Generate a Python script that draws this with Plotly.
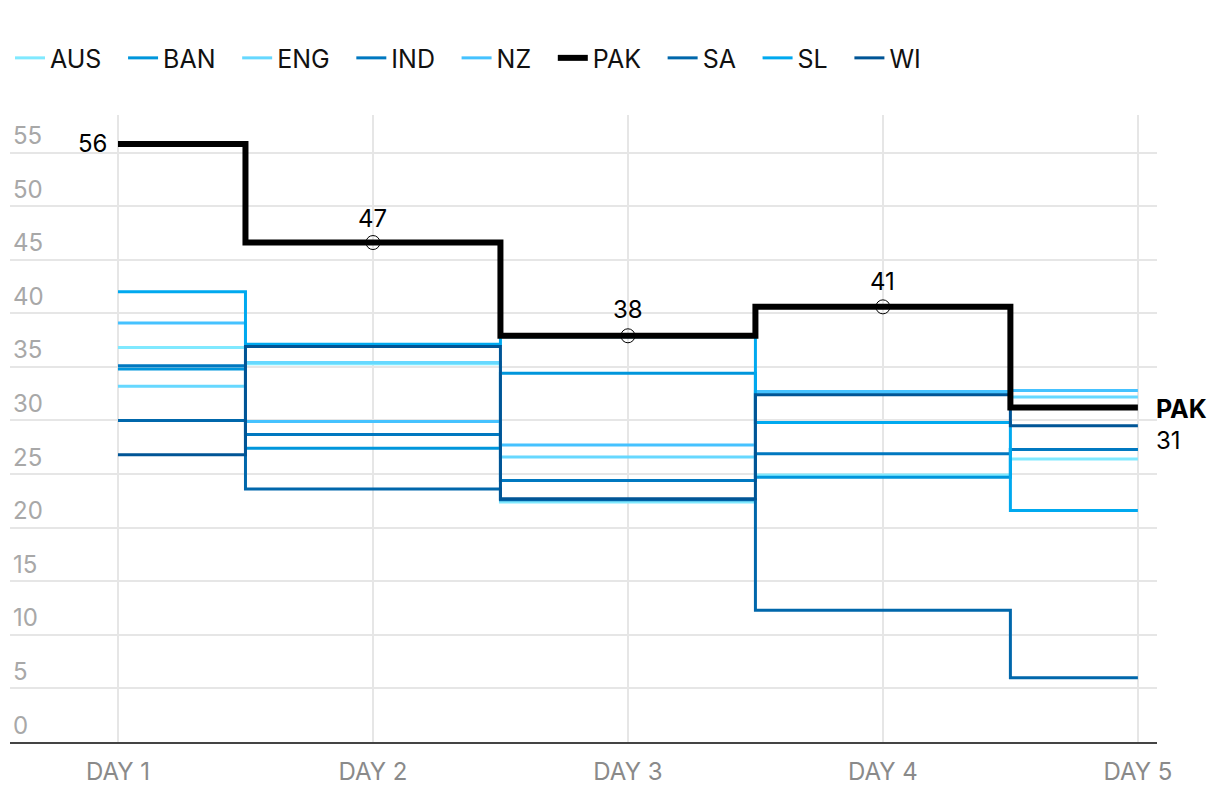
import plotly.graph_objects as go

days = ["DAY 1", "DAY 2", "DAY 3", "DAY 4", "DAY 5"]
day_idx = [0, 1, 2, 3, 4]

teams = ["AUS", "BAN", "ENG", "IND", "NZ", "PAK", "SA", "SL", "WI"]
aus = [36.8, 35.3, 22.4, 24.9, 26.4]
ban = [34.8, 27.4, 34.4, 24.7, 27.3]
eng = [33.2, 35.4, 26.6, 32.5, 32.2]
ind = [35.1, 28.7, 24.4, 26.9, 27.3]
nz = [39.1, 29.9, 27.7, 32.7, 32.8]
pak = [55.8, 46.6, 37.9, 40.6, 31.2]
sa = [30.0, 23.6, 22.6, 12.3, 6.0]
sl = [42.0, 37.1, 37.8, 29.8, 21.6]
wi = [26.8, 36.9, 22.7, 32.4, 29.5]
pak_labels = ["56", "47", "38", "41", "31"]

series = {"AUS": aus, "BAN": ban, "ENG": eng, "IND": ind, "NZ": nz,
          "PAK": pak, "SA": sa, "SL": sl, "WI": wi}
colors = {"AUS": "#80e9ff", "BAN": "#0096dc", "ENG": "#66d8ff", "IND": "#0078c0",
          "NZ": "#45c2ff", "PAK": "#000000", "SA": "#0067ab", "SL": "#00a9ef",
          "WI": "#005596"}

FONT = "Inter"
fig = go.Figure()

draw_order = ["AUS", "BAN", "ENG", "IND", "NZ", "SA", "SL", "WI", "PAK"]
for name in draw_order:
    is_pak = name == "PAK"
    fig.add_trace(go.Scatter(
        x=day_idx, y=series[name], name=name + "\u2002\u2006", mode="lines",
        line=dict(color=colors[name], width=6 if is_pak else 3, shape="hvh"),
        legendrank=teams.index(name) + 1,
        hoverinfo="skip",
    ))

fig.add_trace(go.Scatter(
    x=day_idx[1:4], y=pak[1:4], mode="markers", showlegend=False,
    marker=dict(symbol="circle-open", size=14, color="#000000", line=dict(width=1)),
    hoverinfo="skip",
))

LBL = dict(size=24, color="#000", family=FONT)
ann = []
ann.append(dict(x=0, y=pak[0], text=pak_labels[0], showarrow=False, xanchor="right",
                yanchor="middle", xshift=-9, font=LBL))
for i, ys in zip([1, 2, 3], [24, 26, 25]):
    ann.append(dict(x=i, y=pak[i], text=pak_labels[i], showarrow=False, xanchor="center",
                    yanchor="middle", yshift=ys, font=LBL))
ann.append(dict(x=4, y=pak[4], text="<b>PAK</b>", showarrow=False, xanchor="left",
                yanchor="middle", xshift=16, yshift=-1, font=dict(size=25, color="#000", family=FONT)))
ann.append(dict(x=4, y=pak[4], text=pak_labels[4], showarrow=False, xanchor="left",
                yanchor="middle", xshift=16, yshift=-33, font=LBL))

fig.update_layout(
    width=1220, height=796,
    paper_bgcolor="white", plot_bgcolor="white",
    margin=dict(l=10, r=63, t=115, b=52),
    font=dict(family=FONT, size=22, color="#000"),
    legend=dict(orientation="h", x=0.0, xanchor="left", y=0.927, yanchor="middle",
                yref="container", font=dict(size=25, color="#111", family=FONT),
                itemwidth=30, tracegroupgap=0, traceorder="normal"),
    annotations=ann,
    showlegend=True,
)

fig.update_xaxes(
    range=[-0.4235, 4.075], tickvals=day_idx, ticktext=days,
    showgrid=True, gridcolor="#e6e6e6", gridwidth=2,
    showline=True, linecolor="#444", linewidth=1.5,
    ticks="", ticklabelstandoff=7,
    tickfont=dict(size=24, color="#8a8a8a", family=FONT),
    zeroline=False, fixedrange=True,
)
fig.update_yaxes(
    range=[0, 58.5], tickvals=list(range(0, 60, 5)),
    ticklabelposition="inside top",
    showgrid=True, gridcolor="#e6e6e6", gridwidth=2,
    showline=False, zeroline=False, ticks="",
    tickfont=dict(size=24, color="#a8a8a8", family=FONT), fixedrange=True,
)

fig.write_html("out.html")
